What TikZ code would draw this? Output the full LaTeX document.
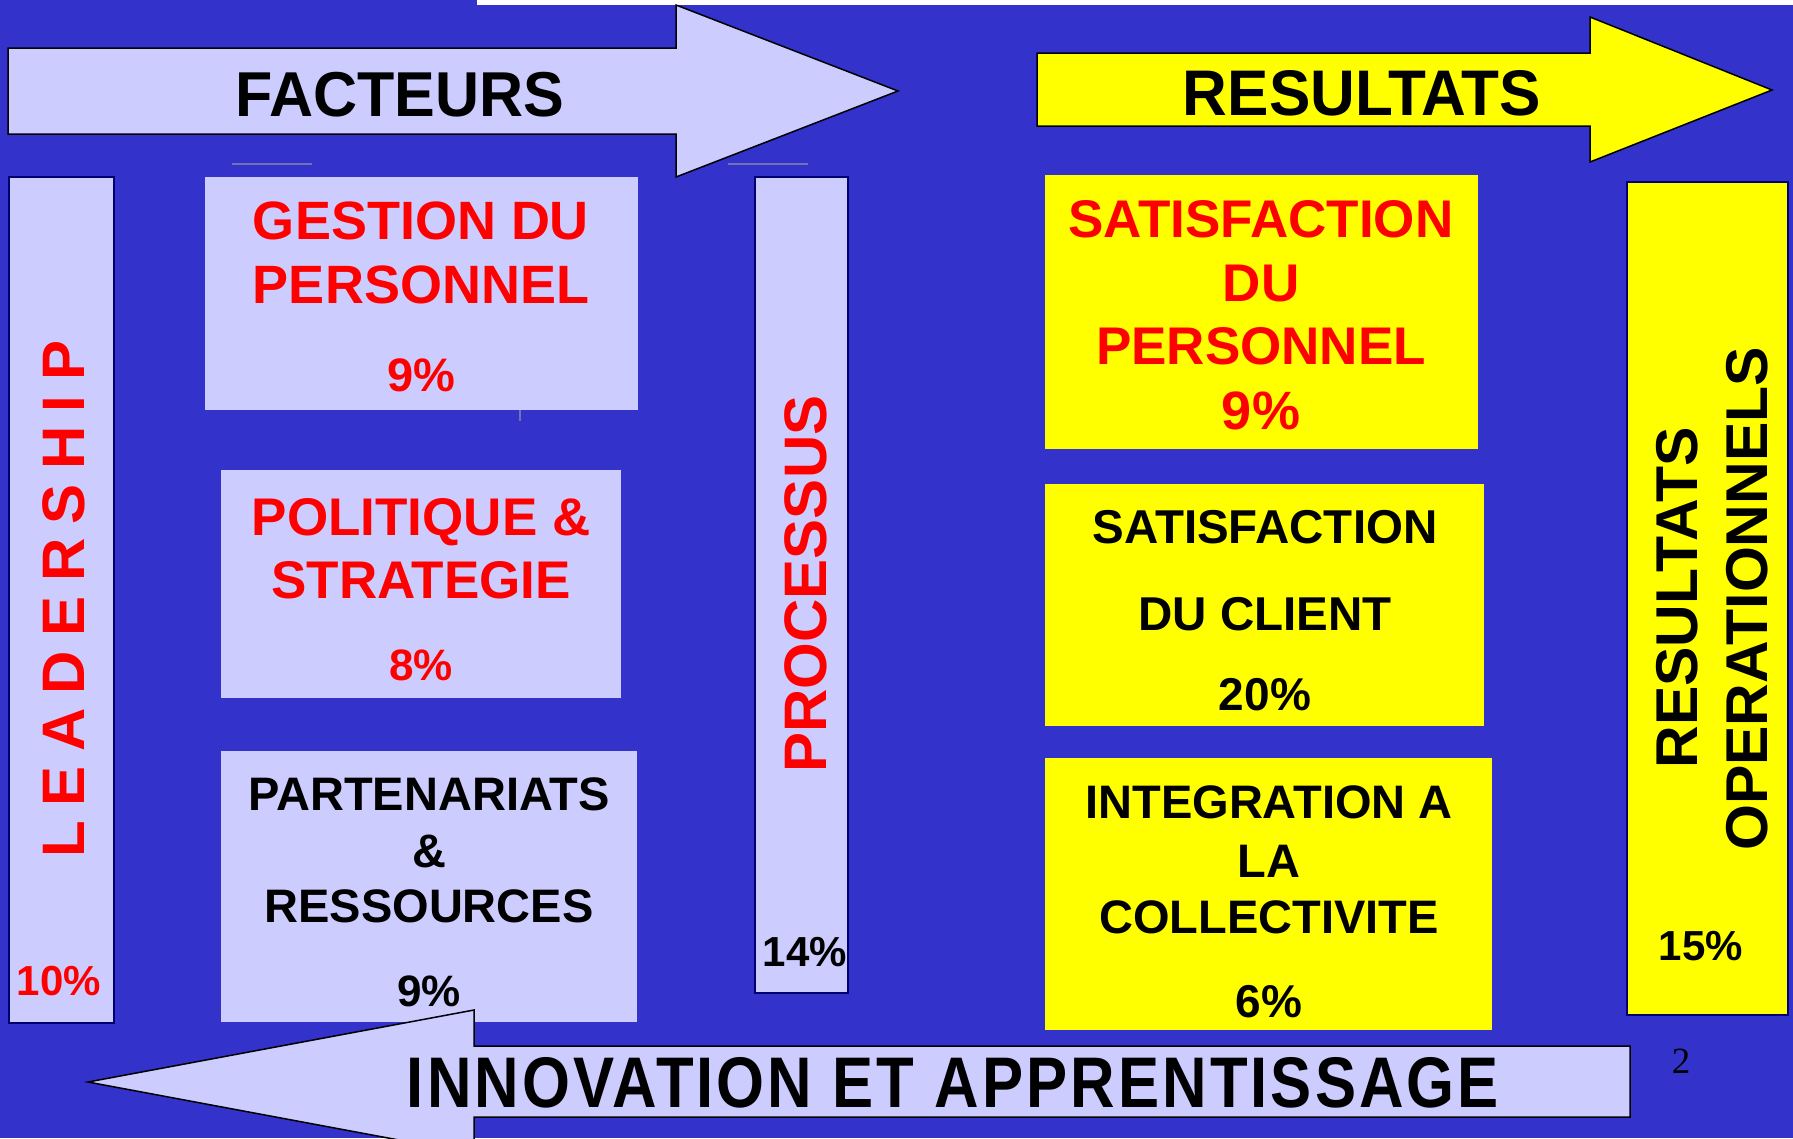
\documentclass[tikz,border=0pt]{standalone}
\usepackage{fontspec}
\setmainfont{Liberation Sans}
\newfontfamily\numfont{Liberation Serif}
\usepackage{xcolor}
\usepackage{tikz}

\definecolor{fond}{RGB}{51,51,204}
\definecolor{lavande}{RGB}{204,204,255}
\definecolor{jaune}{RGB}{255,255,0}
\definecolor{rouge}{RGB}{255,0,0}
\definecolor{marine}{RGB}{0,0,110}
\definecolor{trait}{RGB}{112,112,182}

\newcommand{\sz}[1]{\fontsize{#1}{#1}\selectfont}

\begin{document}
\begin{tikzpicture}[x=1pt, y=-1pt]

\tikzstyle{every node}=[font=\bfseries, inner sep=0, outer sep=0]
\tikzstyle{cadre}=[rectangle, anchor=north west]
\tikzstyle{lav}=[cadre, fill=lavande]
\tikzstyle{jau}=[cadre, fill=jaune]
\tikzstyle{bord}=[draw=marine, line width=1.5]
\tikzstyle{txt}=[anchor=base]
\tikzstyle{vert}=[anchor=base, rotate=90]
\tikzstyle{fleche}=[draw=black, line width=1.5, line join=miter]

% background %
\fill[fond] (0,0) rectangle (1793,1138);
\useasboundingbox (0,0) rectangle (1793,1138);
\fill[white] (477,0) rectangle (1793,5);

% top arrows %
\draw[fleche, fill=lavande] (8,48) -- (676,48) -- (676,5) -- (898,91) -- (676,177) -- (676,134) -- (8,134) -- cycle;
\node[txt, font=\bfseries\sz{61}, yscale=1.04] (facteurs) at (400,116) {FACTEURS};

\draw[fleche, fill=jaune] (1037,53) -- (1590,53) -- (1590,17) -- (1772,90) -- (1590,162) -- (1590,126) -- (1037,126) -- cycle;
\node[txt, font=\bfseries\sz{62}, yscale=1.04] (resultats) at (1362,115) {RESULTATS};

\draw[trait, line width=2] (232,164) -- (312,164);
\draw[trait, line width=2] (728,164) -- (808,164);

% boxes %
\node[lav, bord, minimum width=105pt, minimum height=846pt] (lead) at (9,177) {};
\node[lav, minimum width=433pt, minimum height=233pt] (gestion) at (205,177) {};
\node[lav, minimum width=400pt, minimum height=228pt] (politique) at (221,470) {};
\node[lav, minimum width=416pt, minimum height=271pt] (partenariats) at (221,751) {};
\node[lav, bord, minimum width=93pt, minimum height=816pt] (processus) at (755,177) {};

\node[jau, minimum width=433pt, minimum height=274pt] (satpers) at (1045,175) {};
\node[jau, minimum width=439pt, minimum height=242pt] (satclient) at (1045,484) {};
\node[jau, minimum width=447pt, minimum height=272pt] (integration) at (1045,758) {};
\node[jau, bord, minimum width=161pt, minimum height=833pt] (resop) at (1627,182) {};

\draw[trait, line width=1.5] (520,410) -- (520,421);

% texts %
\node[vert, text=rouge, font=\bfseries\sz{60}\addfontfeature{LetterSpace=24}] (leadtxt) at (84,599) {LEADERSHIP};
\node[txt, text=rouge, font=\bfseries\sz{42}] (leadpct) at (59,995) {10\%};

\node[txt, text=rouge, font=\bfseries\sz{54}] (gestion1) at (421,239) {GESTION DU};
\node[txt, text=rouge, font=\bfseries\sz{54}] (gestion2) at (421,303) {PERSONNEL};
\node[txt, text=rouge, font=\bfseries\sz{47}] (gestionpct) at (421,391) {9\%};

\node[txt, text=rouge, font=\bfseries\sz{53}] (politique1) at (421,535) {POLITIQUE \&};
\node[txt, text=rouge, font=\bfseries\sz{53}] (politique2) at (421,598) {STRATEGIE};
\node[txt, text=rouge, font=\bfseries\sz{44}] (politiquepct) at (421,680) {8\%};

\node[txt, font=\bfseries\sz{47}] (part1) at (429,810) {PARTENARIATS};
\node[txt, font=\bfseries\sz{47}] (part2) at (429,867) {\&};
\node[txt, font=\bfseries\sz{47}] (part3) at (429,922) {RESSOURCES};
\node[txt, font=\bfseries\sz{44}] (partpct) at (429,1006) {9\%};

\node[vert, text=rouge, font=\bfseries\sz{60}] (processustxt) at (826,584) {PROCESSUS};
\node[txt, font=\bfseries\sz{42}] (processuspct) at (805,966) {14\%};

\node[txt, text=rouge, font=\bfseries\sz{53}] (satpers1) at (1261,237) {SATISFACTION};
\node[txt, text=rouge, font=\bfseries\sz{53}] (satpers2) at (1261,301) {DU};
\node[txt, text=rouge, font=\bfseries\sz{53}] (satpers3) at (1261,364) {PERSONNEL};
\node[txt, text=rouge, font=\bfseries\sz{54}] (satperspct) at (1261,429) {9\%};

\node[txt, font=\bfseries\sz{47.5}] (satclient1) at (1265,543) {SATISFACTION};
\node[txt, font=\bfseries\sz{47.5}] (satclient2) at (1265,630) {DU CLIENT};
\node[txt, font=\bfseries\sz{46}] (satclientpct) at (1265,710) {20\%};

\node[txt, font=\bfseries\sz{47}] (integ1) at (1269,818) {INTEGRATION A};
\node[txt, font=\bfseries\sz{47}] (integ2) at (1269,877) {LA};
\node[txt, font=\bfseries\sz{47}] (integ3) at (1269,933) {COLLECTIVITE};
\node[txt, font=\bfseries\sz{46}] (integpct) at (1269,1017) {6\%};

\node[vert, font=\bfseries\sz{59}] (resop1) at (1697,598) {RESULTATS};
\node[vert, font=\bfseries\sz{59}] (resop2) at (1767,599) {OPERATIONNELS};
\node[txt, font=\bfseries\sz{42}] (resoppct) at (1701,960) {15\%};

% bottom arrow %
\draw[fleche, fill=lavande] (1630,1046) -- (474,1046) -- (474,1010) -- (88,1082) -- (474,1154) -- (474,1117) -- (1630,1117) -- cycle;
\node[txt, font=\bfseries\sz{64}\addfontfeature{LetterSpace=5}, xscale=0.963, yscale=1.12] (innovation) at (953,1107) {INNOVATION ET APPRENTISSAGE};

\node[txt, font=\numfont\sz{37}] (page) at (1681,1073) {2};

\end{tikzpicture}
\end{document}
